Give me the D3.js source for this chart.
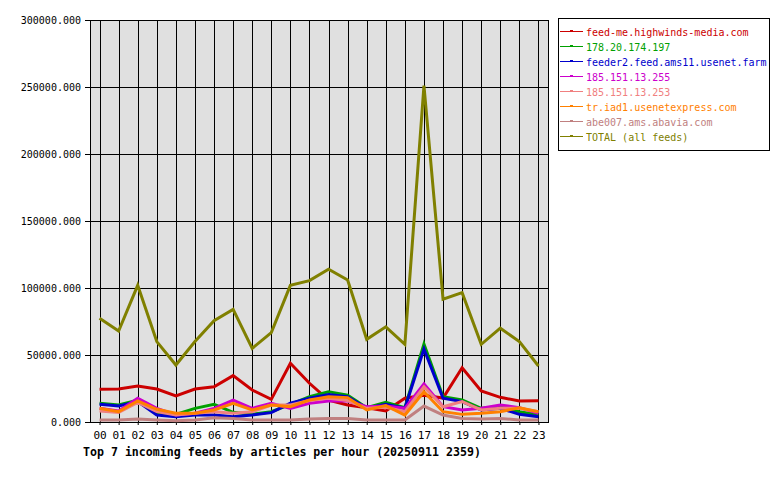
<!DOCTYPE html>
<html>
<head>
<meta charset="UTF-8">
<title>Top 7 incoming feeds</title>
<script src="https://d3js.org/d3.v7.min.js"></script>
<style>
  * { margin: 0; padding: 0; }
  body { background: #fff; }
  text { font-family: "DejaVu Sans Mono", monospace; }
</style>
</head>
<body>
<div id="chart"></div>
<script>
const hours = ["00","01","02","03","04","05","06","07","08","09","10","11",
               "12","13","14","15","16","17","18","19","20","21","22","23"];

const feedNames = ["feed-me.highwinds-media.com", "178.20.174.197", "feeder2.feed.ams11.usenet.farm",
                   "185.151.13.255", "185.151.13.253", "tr.iad1.usenetexpress.com",
                   "abe007.ams.abavia.com", "TOTAL (all feeds)"];
const feedColors = ["#cc0000", "#00a000", "#0000cc", "#cc00cc", "#f08080", "#ff8000", "#c08080", "#808000"];

const highwinds = [24400,24600,26900,24600,19400,24600,26300,34600,23900,16900,43800,28900,
                   16400,12700,10700,8200,17700,20000,17900,40500,23100,18400,15700,15900];
const ip174     = [14000,12700,16400,6000,5700,10200,13200,7200,5700,7700,13200,18900,
                   22600,20100,10700,14700,10700,58200,18900,16400,10200,11400,7700,5200];
const ams11     = [13200,11900,15200,5200,4000,5200,5200,4000,5200,7000,14000,17700,
                   20600,18900,10200,13200,10200,54500,17700,15200,9000,10200,5700,4000];
const ip255     = [10200,8200,17700,10200,5200,6500,10200,16400,10200,13900,10200,14000,
                   15700,15700,11400,12000,10200,28400,11400,9000,10200,12700,10700,6500];
const ip253     = [8200,7200,14700,7700,5200,6500,7700,6500,7700,12700,12700,16000,
                   17700,16000,10200,11000,7700,26300,11400,15200,9000,10200,10200,7700];
const iad1      = [10200,7700,15700,9500,6500,6500,9000,14000,9000,12700,11400,16400,
                   18900,18200,9000,12200,5200,22600,7700,5700,6500,7700,10700,7700];
const abavia    = [1500,1500,2200,1500,1000,1500,3200,2700,1500,1500,1500,2200,
                   2700,2700,1500,1500,1500,11900,5200,2700,2200,2700,1500,1500];
const total     = [77400,67900,102000,60000,42500,60000,75600,84000,55000,66700,102000,105500,
                   114000,106000,61700,71000,58000,251000,91600,96500,58000,70000,60000,41800];

const yTicks = [0, 50000, 100000, 150000, 200000, 250000, 300000];
const title = "Top 7 incoming feeds by articles per hour (20250911 2359)";

const series = [highwinds, ip174, ams11, ip255, ip253, iad1, abavia, total];

const width = 780, height = 480;
const plot = {left: 90, right: 548, top: 20, bottom: 422};

const svg = d3.select("#chart").append("svg")
  .attr("width", width)
  .attr("height", height);

const x = d3.scalePoint()
  .domain(hours)
  .range([plot.left, plot.right])
  .padding(0.5);

const y = d3.scaleLinear()
  .domain([0, 300000])
  .range([plot.bottom, plot.top]);

// plot background
svg.append("rect")
  .attr("x", plot.left).attr("y", plot.top)
  .attr("width", plot.right - plot.left)
  .attr("height", plot.bottom - plot.top)
  .attr("fill", "#e0e0e0");

// grid
svg.append("g")
  .selectAll("line")
  .data(yTicks)
  .join("line")
  .attr("x1", plot.left).attr("x2", plot.right)
  .attr("y1", d => Math.round(y(d)) + 0.5).attr("y2", d => Math.round(y(d)) + 0.5)
  .attr("stroke", "#000");

svg.append("g")
  .selectAll("line")
  .data(hours)
  .join("line")
  .attr("x1", d => Math.round(x(d)) + 0.5).attr("x2", d => Math.round(x(d)) + 0.5)
  .attr("y1", plot.top).attr("y2", plot.bottom)
  .attr("stroke", "#000");

// y axis
const yAxis = svg.append("g")
  .attr("transform", `translate(${plot.left},0)`)
  .call(d3.axisLeft(y).tickValues(yTicks).tickSize(5).tickPadding(4)
    .tickFormat(d => d3.format(".3f")(d)));
yAxis.select(".domain").remove();
yAxis.selectAll("line").attr("stroke", "#000");
yAxis.selectAll("text").style("font-size", "10px").attr("fill", "#000");

// x axis
const xAxis = svg.append("g")
  .attr("transform", `translate(0,${plot.bottom})`)
  .call(d3.axisBottom(x).tickSize(3).tickPadding(6));
xAxis.select(".domain").remove();
xAxis.selectAll("line").attr("stroke", "#000");
xAxis.selectAll("text").style("font-size", "11px").attr("fill", "#000");

// frame
svg.append("rect")
  .attr("x", plot.left + 0.5).attr("y", plot.top + 0.5)
  .attr("width", plot.right - plot.left)
  .attr("height", plot.bottom - plot.top)
  .attr("fill", "none")
  .attr("stroke", "#000");

// lines
const line = d3.line()
  .x((d, i) => x(hours[i]))
  .y(d => y(d));

svg.append("g")
  .selectAll("path")
  .data(series)
  .join("path")
  .attr("d", d => line(d))
  .attr("fill", "none")
  .attr("stroke", (d, i) => feedColors[i])
  .attr("stroke-width", 3);

// legend
const legend = svg.append("g");
legend.append("rect")
  .attr("x", 558.5).attr("y", 18.5)
  .attr("width", 211).attr("height", 132)
  .attr("fill", "#fff")
  .attr("stroke", "#000");

const item = legend.selectAll("g.item")
  .data(feedNames.map((name, i) => ({name, color: feedColors[i]})))
  .join("g")
  .attr("class", "item")
  .attr("transform", (d, i) => `translate(0,${31.5 + i * 15})`);

item.append("line")
  .attr("x1", 560).attr("x2", 583)
  .attr("shape-rendering", "crispEdges")
  .attr("stroke", d => d.color);
item.append("rect")
  .attr("x", 570.5).attr("y", -1.5)
  .attr("width", 2).attr("height", 1)
  .attr("fill", "none")
  .attr("shape-rendering", "crispEdges")
  .attr("stroke", d => d.color);
item.append("text")
  .attr("x", 586).attr("y", 4)
  .style("font-size", "10px")
  .attr("fill", d => d.color)
  .text(d => d.name);

// title
svg.append("text")
  .attr("x", 83).attr("y", 456)
  .style("font-size", "11.6px")
  .style("font-weight", "bold")
  .attr("fill", "#000")
  .text(title);
</script>
</body>
</html>
